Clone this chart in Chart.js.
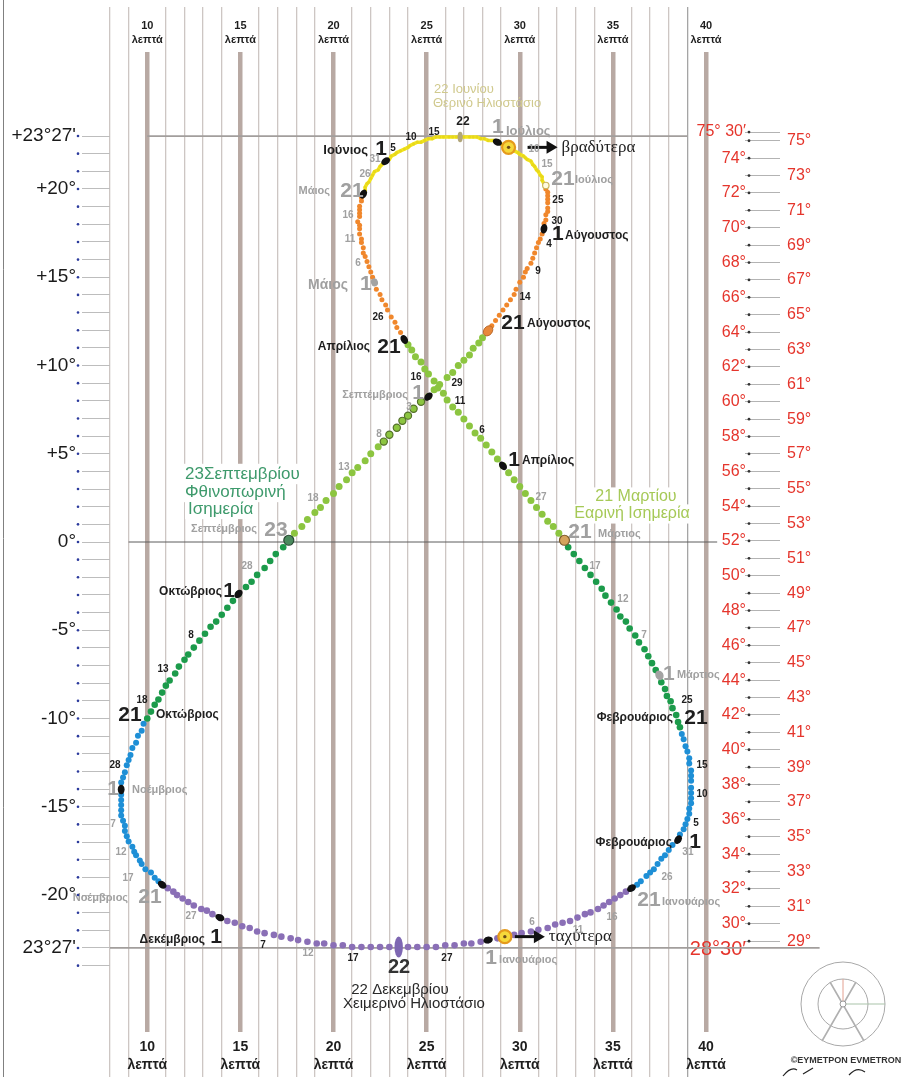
<!DOCTYPE html>
<html>
<head>
<meta charset="utf-8">
<title>Αναλημματική καμπύλη</title>
<script src="https://cdn.jsdelivr.net/npm/chart.js@4.4.1/dist/chart.umd.min.js"></script>
<style>
  html, body { margin: 0; padding: 0; background: #fff; }
  #box { position: relative; width: 913px; height: 1077px; }
</style>
</head>
<body>
<div id="box"><canvas id="myCanvas"></canvas></div>
<script>
// ημέρες ανά μήνα
const monthLengths = [31, 28, 31, 30, 31, 30, 31, 31, 30, 31, 30, 31];

// θέση στον οριζόντιο άξονα (λεπτά), μία τιμή για κάθε μέρα, ανά μήνα
const minutes = [
  [28.3, 28.8, 29.2, 29.7, 30.1, 30.6, 31.0, 31.5, 31.9, 32.3, 32.7, 33.1, 33.5, 33.8, 34.2, 34.5, 34.8, 35.1, 35.4, 35.7, 36.0, 36.3, 36.5, 36.8, 37.0, 37.2, 37.4, 37.6, 37.8, 38.0, 38.2],
  [38.5, 38.6, 38.8, 38.9, 39.0, 39.1, 39.1, 39.2, 39.2, 39.2, 39.2, 39.2, 39.2, 39.2, 39.1, 39.1, 39.0, 38.9, 38.8, 38.7, 38.6, 38.5, 38.4, 38.2, 38.1, 37.9, 37.8, 37.6],
  [37.5, 37.3, 37.1, 36.9, 36.7, 36.4, 36.2, 35.9, 35.7, 35.4, 35.2, 34.9, 34.6, 34.4, 34.1, 33.8, 33.5, 33.2, 32.9, 32.6, 32.4, 32.1, 31.8, 31.5, 31.2, 30.9, 30.6, 30.3, 30.0, 29.7, 29.4],
  [29.1, 28.8, 28.5, 28.2, 27.9, 27.6, 27.3, 27.0, 26.7, 26.4, 26.1, 25.9, 25.6, 25.4, 25.1, 24.9, 24.7, 24.4, 24.2, 24.0, 23.8, 23.6, 23.4, 23.3, 23.1, 22.9, 22.8, 22.6, 22.5, 22.3],
  [22.2, 22.1, 22.0, 21.9, 21.8, 21.7, 21.6, 21.6, 21.5, 21.5, 21.4, 21.4, 21.4, 21.3, 21.4, 21.4, 21.4, 21.4, 21.5, 21.5, 21.6, 21.7, 21.7, 21.8, 21.9, 22.0, 22.1, 22.2, 22.4, 22.5, 22.6],
  [22.8, 23.0, 23.1, 23.3, 23.4, 23.6, 23.8, 24.0, 24.1, 24.3, 24.5, 24.7, 24.9, 25.1, 25.3, 25.5, 25.7, 25.9, 26.2, 26.4, 26.6, 26.8, 27.0, 27.3, 27.5, 27.7, 27.9, 28.1, 28.3, 28.6],
  [28.8, 29.0, 29.2, 29.4, 29.5, 29.7, 29.9, 30.0, 30.2, 30.3, 30.4, 30.6, 30.7, 30.8, 30.9, 31.0, 31.1, 31.2, 31.2, 31.3, 31.4, 31.4, 31.5, 31.5, 31.5, 31.5, 31.5, 31.5, 31.4, 31.4, 31.3],
  [31.3, 31.2, 31.1, 31.0, 30.9, 30.8, 30.7, 30.6, 30.4, 30.3, 30.2, 30.0, 29.8, 29.7, 29.5, 29.3, 29.1, 28.9, 28.7, 28.5, 28.3, 28.0, 27.8, 27.5, 27.3, 27.0, 26.7, 26.4, 26.1, 25.7, 25.4],
  [25.1, 24.7, 24.3, 24.0, 23.7, 23.4, 23.0, 22.7, 22.4, 22.0, 21.7, 21.3, 21.0, 20.7, 20.3, 20.0, 19.6, 19.3, 19.0, 18.6, 18.3, 17.9, 17.6, 17.3, 16.9, 16.6, 16.3, 15.9, 15.6, 15.3],
  [14.9, 14.6, 14.3, 14.0, 13.7, 13.4, 13.1, 12.8, 12.5, 12.2, 12.0, 11.7, 11.5, 11.2, 11.0, 10.8, 10.6, 10.4, 10.2, 10.0, 9.8, 9.7, 9.5, 9.4, 9.2, 9.1, 9.0, 8.9, 8.8, 8.7, 8.6],
  [8.6, 8.6, 8.6, 8.6, 8.6, 8.6, 8.7, 8.8, 8.8, 8.9, 9.0, 9.2, 9.3, 9.4, 9.6, 9.7, 9.9, 10.2, 10.4, 10.6, 10.8, 11.1, 11.4, 11.6, 11.9, 12.2, 12.5, 12.9, 13.2, 13.5],
  [13.9, 14.3, 14.7, 15.1, 15.5, 15.9, 16.3, 16.8, 17.2, 17.7, 18.1, 18.6, 19.1, 19.5, 20.0, 20.5, 21.0, 21.5, 22.0, 22.5, 23.0, 23.5, 24.0, 24.5, 25.0, 25.5, 26.0, 26.5, 27.0, 27.4, 27.9]
];

// απόκλιση του ήλιου (μοίρες), ανά μήνα
const declination = [
  [-23.0, -22.9, -22.8, -22.7, -22.6, -22.5, -22.4, -22.3, -22.1, -22.0, -21.9, -21.7, -21.5, -21.4, -21.2, -21.0, -20.8, -20.6, -20.4, -20.2, -20.0, -19.8, -19.6, -19.3, -19.1, -18.9, -18.6, -18.3, -18.1, -17.8, -17.5],
  [-17.2, -16.9, -16.6, -16.3, -16.0, -15.7, -15.4, -15.1, -14.8, -14.5, -14.2, -13.8, -13.5, -13.2, -12.8, -12.5, -12.1, -11.8, -11.4, -11.1, -10.7, -10.4, -10.0, -9.6, -9.2, -8.9, -8.5, -8.1],
  [-7.7, -7.4, -7.0, -6.6, -6.2, -5.8, -5.4, -5.0, -4.6, -4.3, -3.9, -3.5, -3.1, -2.7, -2.3, -1.9, -1.5, -1.1, -0.7, -0.3, 0.1, 0.5, 0.9, 1.2, 1.6, 2.0, 2.4, 2.8, 3.2, 3.6, 4.0],
  [4.4, 4.8, 5.2, 5.6, 6.0, 6.3, 6.7, 7.1, 7.5, 7.8, 8.2, 8.6, 8.9, 9.3, 9.7, 10.0, 10.4, 10.7, 11.1, 11.4, 11.7, 12.1, 12.4, 12.7, 13.0, 13.4, 13.7, 14.0, 14.3, 14.6],
  [15.0, 15.3, 15.6, 15.9, 16.2, 16.5, 16.7, 17.0, 17.3, 17.5, 17.8, 18.1, 18.3, 18.5, 18.8, 19.0, 19.2, 19.4, 19.7, 19.9, 20.1, 20.3, 20.5, 20.7, 20.8, 21.0, 21.2, 21.4, 21.5, 21.7, 21.8],
  [22.0, 22.1, 22.3, 22.4, 22.5, 22.6, 22.7, 22.8, 22.9, 23.0, 23.1, 23.1, 23.2, 23.3, 23.3, 23.4, 23.4, 23.4, 23.4, 23.4, 23.4, 23.4, 23.4, 23.4, 23.4, 23.4, 23.3, 23.3, 23.2, 23.2],
  [23.1, 23.0, 22.9, 22.8, 22.7, 22.6, 22.5, 22.4, 22.3, 22.2, 22.1, 22.0, 21.8, 21.7, 21.5, 21.4, 21.2, 21.1, 20.9, 20.7, 20.6, 20.4, 20.2, 20.0, 19.8, 19.6, 19.3, 19.1, 18.9, 18.6, 18.4],
  [18.1, 17.8, 17.5, 17.3, 17.0, 16.7, 16.4, 16.1, 15.8, 15.6, 15.3, 15.0, 14.6, 14.3, 14.0, 13.7, 13.4, 13.1, 12.8, 12.5, 12.2, 11.8, 11.5, 11.2, 10.8, 10.5, 10.2, 9.8, 9.5, 9.1, 8.8],
  [8.4, 8.1, 7.7, 7.3, 7.0, 6.6, 6.2, 5.8, 5.5, 5.1, 4.7, 4.3, 4.0, 3.6, 3.2, 2.8, 2.4, 2.0, 1.7, 1.3, 0.9, 0.5, 0.1, -0.3, -0.7, -1.1, -1.5, -1.9, -2.3, -2.6],
  [-3.0, -3.4, -3.8, -4.2, -4.6, -4.9, -5.3, -5.7, -6.1, -6.5, -6.8, -7.2, -7.6, -8.0, -8.3, -8.7, -9.1, -9.4, -9.8, -10.2, -10.5, -10.9, -11.2, -11.6, -11.9, -12.3, -12.6, -12.9, -13.3, -13.6, -13.9],
  [-14.3, -14.6, -14.9, -15.2, -15.5, -15.8, -16.1, -16.4, -16.7, -17.0, -17.3, -17.6, -17.9, -18.1, -18.4, -18.6, -18.9, -19.1, -19.4, -19.6, -19.8, -20.0, -20.2, -20.4, -20.6, -20.8, -21.0, -21.2, -21.3, -21.5],
  [-21.7, -21.9, -22.0, -22.2, -22.3, -22.5, -22.6, -22.7, -22.8, -22.9, -23.0, -23.1, -23.2, -23.2, -23.3, -23.3, -23.4, -23.4, -23.4, -23.4, -23.4, -23.4, -23.4, -23.4, -23.4, -23.4, -23.3, -23.3, -23.2, -23.2, -23.1]
];

// άξονες
const minuteTicks = [8, 9, 10, 11, 12, 13, 14, 15, 16, 17, 18, 19, 20, 21, 22, 23, 24, 25, 26, 27, 28, 29, 30, 31, 32, 33, 34, 35, 36, 37, 38, 39, 40];
const minuteLabels = [10, 15, 20, 25, 30, 35, 40];
const declTicks = [23, 22, 21, 20, 19, 18, 17, 16, 15, 14, 13, 12, 11, 10, 9, 8, 7, 6, 5, 4, 3, 2, 1, 0, -1, -2, -3, -4, -5, -6, -7, -8, -9, -10, -11, -12, -13, -14, -15, -16, -17, -18, -19, -20, -21, -22, -23, -24];
const declLabelValues = [23, 20, 15, 10, 5, 0, -5, -10, -15, -20, -23];
const declLabelTexts = ["+23°27'", '+20°', '+15°', '+10°', '+5°', '0°', '-5°', '-10°', '-15°', '-20°', "23°27'"];
const altitudeEven = [75.5, 74, 72, 70, 68, 66, 64, 62, 60, 58, 56, 54, 52, 50, 48, 46, 44, 42, 40, 38, 36, 34, 32, 30, 28.5];
const altitudeOdd = [75, 73, 71, 69, 67, 65, 63, 61, 59, 57, 55, 53, 51, 49, 47, 45, 43, 41, 39, 37, 35, 33, 31, 29];

// τροπικοί και ισημερινός
const guideDecl = [23.45, 0, -23.45];
const guideFrom = [10, 9, 8];
const guideTo = [39, 40.6, 46.1];

// εποχές (ζώδια): μέρα έναρξης κάθε χρώματος
const seasonStarts = [[1, 21], [2, 21], [3, 21], [4, 21], [5, 21], [7, 21], [8, 21], [9, 23], [10, 21], [11, 21]];
const seasonColours = ['#1e8fd6', '#1c9b4b', '#8cc540', '#f0872c', '#e8d81a', '#f0872c', '#8cc540', '#1c9b4b', '#1e8fd6', '#8a6fb6'];
const seasonRadius = [3, 3.3, 3.5, 2.5, 1.6, 2.5, 3.5, 3.3, 3, 3.3];

// σημάδια πάνω στην καμπύλη
const blackMarks = [[1, 1], [1, 21], [2, 1], [4, 1], [4, 21], [5, 21], [6, 1], [7, 1], [8, 1], [9, 1], [10, 1], [11, 1], [11, 21], [12, 1]];
const greyMarks = [[3, 1], [5, 1]];
const ringMarks = [[9, 2], [9, 3], [9, 4], [9, 5], [9, 6], [9, 7], [9, 8]];
const sunMarks = [[7, 4, 'βραδύτερα', 19], [1, 3, 'ταχύτερα', 10]];

// κείμενα: [κείμενο, λεπτά, απόκλιση, στυλ, στοίχιση]
const captions = [
  ['22 Ιουνίου', 25.40, 26.17, 'summer', 'l'],
  ['Θερινό Ηλιοστάσιο', 25.34, 25.36, 'summer', 'l'],
  ['22', 26.95, 24.27, 'num12K', 'c'],
  ['15', 25.40, 23.69, 'dayK', 'c'],
  ['10', 24.16, 23.40, 'dayK', 'c'],
  ['5', 23.19, 22.76, 'dayK', 'c'],
  ['Ιούνιος', 21.85, 22.65, 'mon13K', 'r'],
  ['1', 22.55, 22.71, 'bigK', 'c'],
  ['31', 22.23, 22.13, 'dayG', 'c'],
  ['26', 21.69, 21.26, 'dayG', 'c'],
  ['Μάιος', 19.81, 20.28, 'monG', 'r'],
  ['21', 20.99, 20.28, 'bigG', 'c'],
  ['16', 20.78, 18.89, 'dayG', 'c'],
  ['11', 20.89, 17.51, 'dayG', 'c'],
  ['6', 21.32, 16.12, 'dayG', 'c'],
  ['Μάιος', 20.78, 14.85, 'mon14G', 'r'],
  ['1', 21.74, 14.91, 'bigG', 'c'],
  ['26', 22.39, 13.00, 'dayK', 'c'],
  ['Απρίλιος', 21.96, 11.27, 'monK', 'r'],
  ['21', 22.98, 11.27, 'bigK', 'c'],
  ['16', 24.43, 9.53, 'dayK', 'c'],
  ['Σεπτέμβριος', 24.00, 8.49, 'monG', 'r'],
  ['1', 24.54, 8.61, 'bigG', 'c'],
  ['3', 24.05, 7.80, 'dayG', 'c'],
  ['8', 22.44, 6.24, 'dayG', 'c'],
  ['13', 20.56, 4.33, 'dayG', 'c'],
  ['18', 18.90, 2.54, 'dayG', 'c'],
  ['29', 26.63, 9.19, 'dayK', 'c'],
  ['11', 26.79, 8.15, 'dayK', 'c'],
  ['6', 27.97, 6.47, 'dayK', 'c'],
  ['1', 29.69, 4.74, 'bigK', 'c'],
  ['Απρίλιος', 30.12, 4.68, 'monK', 'l'],
  ['27', 31.14, 2.60, 'dayG', 'c'],
  ['21 Μαρτίου', 36.24, 2.60, 'spring', 'c'],
  ['Εαρινή Ισημερία', 36.03, 1.62, 'spring', 'c'],
  ['21', 33.23, 0.58, 'bigG', 'c'],
  ['Μάρτιος', 34.20, 0.46, 'monG', 'l'],
  ['9', 30.98, 15.66, 'dayK', 'c'],
  ['14', 30.28, 14.16, 'dayK', 'c'],
  ['4', 31.57, 17.22, 'dayK', 'c'],
  ['30', 32.00, 18.55, 'dayK', 'c'],
  ['25', 32.05, 19.76, 'dayK', 'c'],
  ['15', 31.46, 21.84, 'dayG', 'c'],
  ['10', 30.77, 22.71, 'dayG', 'c'],
  ['1', 28.83, 23.98, 'bigG', 'c'],
  ['Ιούλιος', 29.26, 23.75, 'mon13G', 'l'],
  ['21', 32.32, 20.97, 'bigG', 'c'],
  ['Ιούλιος', 32.97, 20.92, 'monG', 'l'],
  ['1', 32.05, 17.80, 'bigK', 'c'],
  ['Αύγουστος', 32.43, 17.68, 'monK', 'l'],
  ['21', 29.64, 12.65, 'bigK', 'c'],
  ['Αύγουστος', 30.39, 12.60, 'monK', 'l'],
  ['23Σεπτεμβρίου', 12.03, 3.93, 'autumn', 'l'],
  ['Φθινοπωρινή', 12.03, 2.89, 'autumn', 'l'],
  ['Ισημερία', 12.19, 1.91, 'autumn', 'l'],
  ['Σεπτέμβριος', 15.89, 0.75, 'monG', 'r'],
  ['23', 16.91, 0.69, 'bigG', 'c'],
  ['28', 15.36, -1.39, 'dayG', 'c'],
  ['Οκτώβριος', 14.01, -2.89, 'monK', 'r'],
  ['1', 14.39, -2.83, 'bigK', 'c'],
  ['8', 12.35, -5.37, 'dayK', 'c'],
  ['13', 10.85, -7.34, 'dayK', 'c'],
  ['18', 9.72, -9.13, 'dayK', 'c'],
  ['21', 9.07, -10.00, 'bigK', 'c'],
  ['Οκτώβριος', 10.47, -10.00, 'monK', 'l'],
  ['28', 8.27, -12.88, 'dayK', 'c'],
  ['1', 8.16, -14.27, 'bigG', 'c'],
  ['Νοέμβριος', 9.18, -14.33, 'monG', 'l'],
  ['7', 8.16, -16.29, 'dayG', 'c'],
  ['12', 8.59, -17.91, 'dayG', 'c'],
  ['17', 8.97, -19.41, 'dayG', 'c'],
  ['Νοέμβριος', 8.97, -20.57, 'monG', 'r'],
  ['21', 10.15, -20.51, 'bigG', 'c'],
  ['27', 12.35, -21.61, 'dayG', 'c'],
  ['Δεκέμβριος', 13.10, -23.00, 'monK', 'r'],
  ['1', 13.69, -22.82, 'bigK', 'c'],
  ['7', 16.21, -23.28, 'dayK', 'c'],
  ['12', 18.63, -23.75, 'dayG', 'c'],
  ['17', 21.05, -24.04, 'dayK', 'c'],
  ['22', 23.52, -24.61, 'big20D', 'c'],
  ['27', 26.09, -24.04, 'dayK', 'c'],
  ['22 Δεκεμβρίου', 23.57, -25.88, 'winter', 'c'],
  ['Χειμερινό Ηλιοστάσιο', 24.32, -26.69, 'winter', 'c'],
  ['17', 34.04, -1.39, 'dayG', 'c'],
  ['12', 35.54, -3.29, 'dayG', 'c'],
  ['7', 36.67, -5.37, 'dayG', 'c'],
  ['1', 38.01, -7.63, 'bigG', 'c'],
  ['Μάρτιος', 38.44, -7.68, 'monG', 'l'],
  ['25', 38.98, -9.13, 'dayK', 'c'],
  ['Φεβρουάριος', 38.23, -10.17, 'monK', 'r'],
  ['21', 39.46, -10.17, 'bigK', 'c'],
  ['15', 39.79, -12.88, 'dayK', 'c'],
  ['10', 39.79, -14.56, 'dayK', 'c'],
  ['5', 39.46, -16.24, 'dayK', 'c'],
  ['Φεβρουάριος', 38.17, -17.39, 'monK', 'r'],
  ['1', 39.41, -17.33, 'bigK', 'c'],
  ['31', 39.03, -17.91, 'dayG', 'c'],
  ['26', 37.91, -19.36, 'dayG', 'c'],
  ['21', 36.94, -20.68, 'bigG', 'c'],
  ['Ιανουάριος', 37.64, -20.80, 'monG', 'l'],
  ['16', 34.95, -21.67, 'dayG', 'c'],
  ['11', 33.13, -22.42, 'dayG', 'c'],
  ['6', 30.66, -21.96, 'dayG', 'c'],
  ['1', 28.46, -24.04, 'bigG', 'c'],
  ['Ιανουάριος', 28.89, -24.15, 'monG', 'l']
];

const FAMILY = '"Liberation Sans", Arial, Helvetica, sans-serif';
const BLACK = '#1e1e1e';
const GREY = '#a0a0a0';
const RED = '#e5352c';
const captionStyles = {
  dayK: { size: 10, bold: true, color: BLACK },
  dayG: { size: 10, bold: true, color: GREY },
  bigK: { size: 21, bold: true, color: BLACK },
  bigG: { size: 21, bold: true, color: GREY },
  monK: { size: 12, bold: true, color: BLACK },
  monG: { size: 11, bold: true, color: GREY },
  mon13K: { size: 13, bold: true, color: BLACK },
  mon13G: { size: 13, bold: true, color: GREY },
  mon14G: { size: 14, bold: true, color: GREY },
  num12K: { size: 12, bold: true, color: BLACK },
  big20D: { size: 20, bold: true, color: '#333' },
  summer: { size: 13, bold: false, color: '#d0c98d' },
  spring: { size: 16, bold: false, color: '#a6c957', box: true },
  autumn: { size: 17, bold: false, color: '#3e9a6c', box: true },
  winter: { size: 15, bold: false, color: '#2a2a2a' }
};
const fontOf = st => (st.bold ? 'bold ' : '') + st.size + 'px ' + FAMILY;

// μία εγγραφή για κάθε μέρα του έτους
const points = [];
minutes.forEach((month, mi) => {
  month.forEach((mx, di) => {
    points.push({ x: mx, y: declination[mi][di], m: mi + 1, d: di + 1 });
  });
});

function dayIndex(m, d) {
  let i = d - 1;
  for (let k = 0; k < m - 1; k++) i += monthLengths[k];
  return i;
}

function seasonOf(p) {
  let k = seasonStarts.length - 1;
  seasonStarts.forEach(([m, d], i) => {
    if (p.m > m || (p.m === m && p.d >= d)) k = i;
  });
  if (p.m === 1 && p.d < 21) k = seasonStarts.length - 1;
  return k;
}

const summerPoints = points.slice(dayIndex(5, 21), dayIndex(7, 21) + 1);

const isFive = v => minuteLabels.includes(v);
const lineColour = v => isFive(v) ? '#b8a9a3' : (v === 39 ? '#a5a5a5' : '#cdc6c3');
const tickVal = c => (c.tick ? c.tick.value : 0);

function xGrid(onChart) {
  return {
    drawOnChartArea: onChart,
    color: c => lineColour(tickVal(c)),
    lineWidth: c => isFive(tickVal(c)) ? 4.5 : 1.3,
    tickLength: 45,
    tickColor: c => isFive(tickVal(c)) ? 'rgba(0,0,0,0)' : lineColour(tickVal(c)),
    tickWidth: 1.3
  };
}

function place(chart, mx, dec) {
  return { x: chart.scales.x.getPixelForValue(mx), y: chart.scales.y.getPixelForValue(dec) };
}

function dayPixel(chart, m, d) {
  const i = dayIndex(m, d);
  const p = place(chart, points[i].x, points[i].y);
  const a = points[(i + 364) % 365];
  const b = points[(i + 1) % 365];
  const pa = place(chart, a.x, a.y);
  const pb = place(chart, b.x, b.y);
  p.angle = Math.atan2(pb.y - pa.y, pb.x - pa.x);
  return p;
}

function blob(ctx, x, y, rx, ry, rot, fill, stroke, lw) {
  ctx.beginPath();
  ctx.ellipse(x, y, rx, ry, rot, 0, Math.PI * 2);
  if (fill) { ctx.fillStyle = fill; ctx.fill(); }
  if (stroke) { ctx.strokeStyle = stroke; ctx.lineWidth = lw || 1; ctx.stroke(); }
}

const decor = {
  id: 'decor',
  beforeDraw(chart) {
    const ctx = chart.ctx;
    ctx.save();
    ctx.strokeStyle = '#808080';
    ctx.lineWidth = 1;
    ctx.beginPath();
    ctx.moveTo(3.5, 0);
    ctx.lineTo(3.5, chart.height);
    ctx.stroke();
    ctx.restore();
  },
  beforeDatasetsDraw(chart) {
    // λευκό φόντο πίσω από τις λεζάντες των ισημεριών
    const ctx = chart.ctx;
    ctx.save();
    ctx.fillStyle = '#fff';
    captions.forEach(([text, mx, dec, key, al]) => {
      const st = captionStyles[key];
      if (!st.box) return;
      ctx.font = fontOf(st);
      const w = ctx.measureText(text).width;
      const p = place(chart, mx, dec);
      const left = al === 'l' ? p.x : al === 'r' ? p.x - w : p.x - w / 2;
      ctx.fillRect(left - 3, p.y - st.size * 0.6, w + 6, st.size * 1.2);
    });
    ctx.restore();
  },
  afterDatasetsDraw(chart) {
    const ctx = chart.ctx;
    ctx.save();

    ringMarks.forEach(([m, d]) => {
      const p = dayPixel(chart, m, d);
      blob(ctx, p.x, p.y, 3.6, 3.6, 0, '#8cc540', '#55702c', 1.2);
    });
    greyMarks.forEach(([m, d], i) => {
      const p = dayPixel(chart, m, d);
      blob(ctx, p.x, p.y, i === 0 ? 5 : 4, i === 0 ? 4 : 3.5, p.angle, '#a3a3a3');
    });
    blackMarks.forEach(([m, d]) => {
      const p = dayPixel(chart, m, d);
      blob(ctx, p.x, p.y, 4.8, 3.4, p.angle, '#111');
    });

    let p = dayPixel(chart, 3, 21);
    blob(ctx, p.x, p.y, 5, 5, 0, '#d6a35c', '#7b5a2a', 1.2);
    p = dayPixel(chart, 9, 23);
    blob(ctx, p.x, p.y, 5, 5, 0, '#4a8a5d', '#2a4a34', 1.2);
    p = dayPixel(chart, 8, 21);
    blob(ctx, p.x, p.y, 5.5, 4.2, p.angle, '#e8883a', '#b8682a', 1);
    p = dayPixel(chart, 7, 21);
    blob(ctx, p.x, p.y, 3.2, 3.2, 0, '#fffbe0', '#c9b560', 1.2);
    p = dayPixel(chart, 6, 22);
    blob(ctx, p.x, p.y, 2.6, 5.2, 0, '#b1a67a');
    p = dayPixel(chart, 12, 22);
    blob(ctx, p.x, p.y, 4.2, 10.5, 0, '#7e67b2');

    // ήλιος στο αφήλιο και στο περιήλιο, με βέλος
    sunMarks.forEach(([m, d, word, gap]) => {
      const s = dayPixel(chart, m, d);
      blob(ctx, s.x, s.y, 6.5, 6.5, 0, '#f6d83a', '#e59a1c', 2.2);
      blob(ctx, s.x, s.y, 1.7, 1.7, 0, '#6a4a18');
      const x0 = s.x + gap;
      const x1 = x0 + 30;
      ctx.strokeStyle = '#111';
      ctx.lineWidth = 3;
      ctx.beginPath();
      ctx.moveTo(x0, s.y);
      ctx.lineTo(x1 - 8, s.y);
      ctx.stroke();
      ctx.fillStyle = '#111';
      ctx.beginPath();
      ctx.moveTo(x1, s.y);
      ctx.lineTo(x1 - 11, s.y - 6.5);
      ctx.lineTo(x1 - 11, s.y + 6.5);
      ctx.closePath();
      ctx.fill();
      ctx.font = '17px "Liberation Serif", "DejaVu Serif", serif';
      ctx.textAlign = 'left';
      ctx.textBaseline = 'middle';
      ctx.fillStyle = '#222';
      ctx.fillText(word, x1 + 4, s.y);
    });

    // κείμενα
    captions.forEach(([text, mx, dec, key, al]) => {
      const st = captionStyles[key];
      const q = place(chart, mx, dec);
      ctx.font = fontOf(st);
      ctx.fillStyle = st.color;
      ctx.textAlign = al === 'l' ? 'left' : al === 'r' ? 'right' : 'center';
      ctx.textBaseline = 'middle';
      ctx.fillText(text, q.x, q.y);
    });

    // κουκκίδες των κλιμάκων
    const yl = chart.scales.yl;
    yl.ticks.forEach(t => blob(ctx, yl.right - 32, yl.getPixelForValue(t.value), 1.3, 1.3, 0, '#2b3a9c'));
    const yb = chart.scales.yb;
    yb.ticks.forEach(t => blob(ctx, yb.left + 4, yb.getPixelForValue(t.value), 1.4, 1.4, 0, '#333'));

    ctx.restore();
  },
  afterDraw(chart) {
    // σήμα και υπογραφή κάτω δεξιά
    const ctx = chart.ctx;
    const cx = chart.width - 70;
    const cy = chart.height - 73;
    ctx.save();
    blob(ctx, cx, cy, 42, 42, 0, null, '#a8a8a8', 1);
    blob(ctx, cx, cy, 25, 25, 0, null, '#a8a8a8', 1);
    ctx.lineWidth = 1.6;
    ctx.strokeStyle = '#b0b0b0';
    ctx.beginPath();
    ctx.moveTo(cx - 13, cy - 22); ctx.lineTo(cx + 21, cy + 37);
    ctx.moveTo(cx + 13, cy - 22); ctx.lineTo(cx - 21, cy + 37);
    ctx.stroke();
    ctx.lineWidth = 1;
    ctx.strokeStyle = '#e3a090';
    ctx.beginPath(); ctx.moveTo(cx, cy); ctx.lineTo(cx, cy - 25); ctx.stroke();
    ctx.strokeStyle = '#a9c3a9';
    ctx.beginPath(); ctx.moveTo(cx, cy); ctx.lineTo(cx + 42, cy); ctx.stroke();
    blob(ctx, cx, cy, 3, 3, 0, '#fff', '#999', 1);
    ctx.font = 'bold 9px ' + FAMILY;
    ctx.fillStyle = '#333';
    ctx.textAlign = 'center';
    ctx.textBaseline = 'middle';
    ctx.fillText('©ΕΥΜΕΤΡΟΝ EVMETRON', cx + 3, cy + 57);
    ctx.strokeStyle = '#222';
    ctx.lineWidth = 1.2;
    ctx.beginPath();
    ctx.moveTo(cx - 60, cy + 72); ctx.quadraticCurveTo(cx - 52, cy + 62, cx - 46, cy + 66);
    ctx.moveTo(cx - 40, cy + 70); ctx.lineTo(cx - 30, cy + 64);
    ctx.moveTo(cx + 6, cy + 71); ctx.quadraticCurveTo(cx + 14, cy + 62, cx + 22, cy + 68);
    ctx.stroke();
    ctx.restore();
  }
};

new Chart(document.getElementById('myCanvas'), {
  type: 'scatter',
  data: {
    datasets: [
      {
        label: 'Ανάλημμα',
        data: points,
        order: 0,
        pointRadius: c => seasonRadius[seasonOf(c.raw)],
        pointBackgroundColor: c => seasonColours[seasonOf(c.raw)],
        pointBorderWidth: 0
      },
      {
        label: 'Θερινό τόξο',
        data: summerPoints,
        order: 1,
        showLine: true,
        borderColor: '#f3e61f',
        borderWidth: 3.6,
        pointRadius: 0
      },
      ...guideDecl.map((g, i) => ({
        label: 'guide' + i,
        data: [{ x: guideFrom[i], y: g }, { x: guideTo[i], y: g }],
        order: 2,
        showLine: true,
        borderColor: i === 1 ? '#5c5c5c' : '#a29e9c',
        borderWidth: i === 1 ? 1 : 1.6,
        pointRadius: 0,
        clip: false
      }))
    ]
  },
  options: {
    responsive: true,
    maintainAspectRatio: false,
    animation: false,
    events: [],
    layout: { padding: 0 },
    plugins: { legend: { display: false }, tooltip: { enabled: false } },
    scales: {
      x: {
        type: 'linear', position: 'top', min: 8, max: 40,
        afterBuildTicks: s => { s.ticks = minuteTicks.map(v => ({ value: v })); },
        afterFit: s => { s.height = 52; },
        border: { display: false },
        grid: xGrid(true),
        ticks: {
          autoSkip: false, maxRotation: 0, minRotation: 0, padding: -40.5, color: BLACK,
          font: { family: FAMILY, size: 11, weight: 'bold', lineHeight: 1.3 },
          callback: v => isFive(v) ? [String(v), 'λεπτά'] : ''
        }
      },
      x2: {
        type: 'linear', position: 'bottom', min: 8, max: 40,
        afterBuildTicks: s => { s.ticks = minuteTicks.map(v => ({ value: v })); },
        afterFit: s => { s.height = 45; },
        border: { display: false },
        grid: xGrid(false),
        ticks: {
          autoSkip: false, maxRotation: 0, minRotation: 0, padding: -39.1, color: BLACK,
          font: { family: FAMILY, size: 14, weight: 'bold', lineHeight: 1.3 },
          callback: v => isFive(v) ? [String(v), 'λεπτά'] : ''
        }
      },
      y: {
        type: 'linear', display: false, min: -28.31, max: 28.31
      },
      yl: {
        type: 'linear', position: 'left', min: -27.76, max: 27.76,
        afterBuildTicks: s => { s.ticks = declTicks.map(v => ({ value: v })); },
        afterFit: s => { s.width = 110; },
        border: { display: false },
        grid: { drawOnChartArea: false, tickLength: 28, tickColor: '#bdbdbd', tickWidth: 1 },
        ticks: {
          autoSkip: false, padding: 6, color: '#1a1a1a',
          font: { family: FAMILY, size: 19 },
          callback: v => {
            const k = declLabelValues.indexOf(v);
            return k < 0 ? '' : declLabelTexts[k];
          }
        }
      },
      ya: {
        type: 'linear', position: 'right', weight: 1, min: 23.78, max: 80.10,
        afterBuildTicks: s => { s.ticks = altitudeEven.map(v => ({ value: v })); },
        afterFit: s => { s.width = 39; s.paddingTop = 0; s.paddingBottom = 0; },
        border: { display: false },
        grid: { drawOnChartArea: false, drawTicks: false },
        ticks: {
          autoSkip: false, mirror: true, padding: 40, color: RED,
          font: c => ({ family: FAMILY, size: c.tick && c.tick.value === 28.5 ? 20 : 16 }),
          callback: v => v === 75.5 ? '75° 30′' : v === 28.5 ? '28°30′' : v + '°'
        }
      },
      yb: {
        type: 'linear', position: 'right', weight: 2, min: 23.78, max: 80.10,
        afterBuildTicks: s => { s.ticks = [75.5, ...altitudeOdd, ...altitudeEven.slice(1, -1)].map(v => ({ value: v })); },
        afterFit: s => { s.width = 168; },
        border: { display: false },
        grid: { drawOnChartArea: false, tickLength: 35, tickColor: '#b3b3b3', tickWidth: 1 },
        ticks: {
          autoSkip: false, padding: 7, color: RED,
          font: { family: FAMILY, size: 16 },
          callback: v => altitudeOdd.includes(v) ? v + '°' : ''
        }
      }
    }
  },
  plugins: [decor]
});
</script>
</body>
</html>
